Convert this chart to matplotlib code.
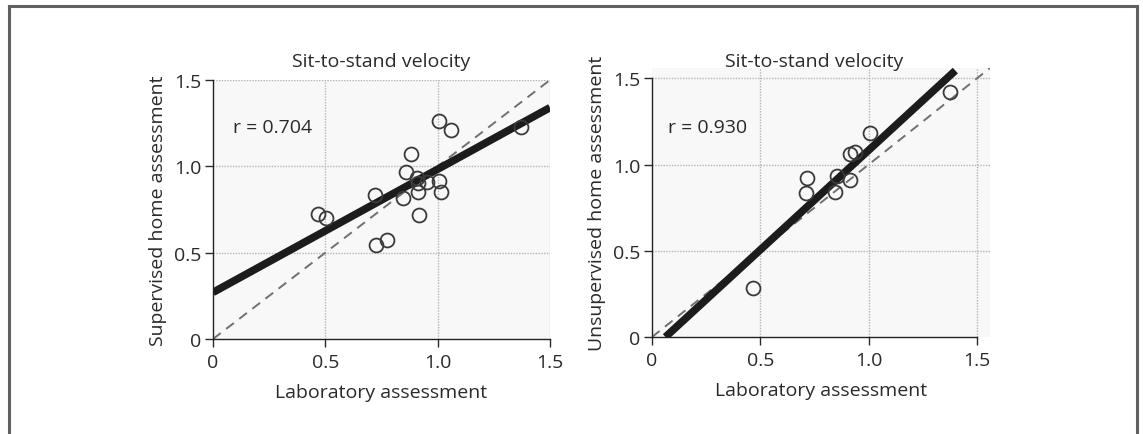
import matplotlib
matplotlib.use("Agg")
import matplotlib.pyplot as plt
import matplotlib.transforms as mtransforms
from matplotlib.lines import Line2D

plt.rcParams['font.family'] = ['Open Sans', 'DejaVu Sans']

# Left panel data (laboratory vs supervised home)
lab_sup = [0.468, 0.505, 0.72, 0.725, 0.773, 0.847, 0.857, 0.881, 0.906, 0.914,
           0.911, 0.918, 0.951, 1.007, 1.015, 1.007, 1.059, 1.371]
home_sup = [0.723, 0.698, 0.833, 0.546, 0.573, 0.814, 0.968, 1.074, 0.935, 0.902,
            0.852, 0.717, 0.91, 0.916, 0.852, 1.263, 1.211, 1.23]
fit_sup_x = [0.0, 1.5]
fit_sup_y = [0.27, 1.34]
r_sup = "r = 0.704"

# Right panel data (laboratory vs unsupervised home)
lab_uns = [0.466, 0.715, 0.711, 0.843, 0.854, 0.912, 0.912, 0.938, 1.005, 1.374]
home_uns = [0.284, 0.921, 0.834, 0.840, 0.936, 0.913, 1.062, 1.075, 1.181, 1.423]
fit_uns_x = [0.062, 1.40]
fit_uns_y = [0.0, 1.545]
r_uns = "r = 0.930"

title = "Sit-to-stand velocity"
xlabel = "Laboratory assessment"
ylabels = ["Supervised home assessment", "Unsupervised home assessment"]
ticks = [0, 0.5, 1.0, 1.5]
ticklabels = ["0", "0.5", "1.0", "1.5"]

FS = 14
TXT = '#2a2a2a'

fig = plt.figure(figsize=(11.43, 4.35), dpi=100)

ax1 = fig.add_axes([213/1143, (435-340)/435, 337/1143, 259/435])
ax2 = fig.add_axes([652/1143, (435-338)/435, 338/1143, 269/435])

panels = [
    (ax1, lab_sup, home_sup, fit_sup_x, fit_sup_y, r_sup, ylabels[0], 1.5, 1.5, (0.089, 1.23)),
    (ax2, lab_uns, home_uns, fit_uns_x, fit_uns_y, r_uns, ylabels[1], 1.56, 1.56, (0.074, 1.22)),
]

for ax, xs, ys, fx, fy, rtxt, ylab, xmax, ymax, rpos in panels:
    ax.set_facecolor('#f8f8f8')
    ax.set_xlim(0, xmax)
    ax.set_ylim(0, ymax)
    for v in [0.5, 1.0, 1.5]:
        ax.axvline(v, color='#b5b5b5', lw=1.0, ls=(0, (1, 1)), zorder=1)
        ax.axhline(v, color='#b5b5b5', lw=1.0, ls=(0, (1, 1)), zorder=1)
    m = max(xmax, ymax)
    ax.plot([0, m], [0, m], color='#707070', lw=1.4, ls=(0, (5, 3.5)), zorder=2)
    ax.plot(fx, fy, color='#1c1c1c', lw=5.5, solid_capstyle='butt', zorder=3)
    ax.plot(xs, ys, ls='none', marker='o', ms=10, mfc='none', mec='#3a3a3a',
            mew=1.3, zorder=4)
    ax.text(rpos[0], rpos[1], rtxt, fontsize=FS, va='center', ha='left', color=TXT)
    ax.set_xticks(ticks)
    ax.set_xticklabels(ticklabels)
    ax.set_yticks(ticks)
    ax.set_yticklabels(ticklabels)
    ax.tick_params(direction='out', length=6, width=1, labelsize=FS, colors=TXT, pad=2.5)
    ax.tick_params(axis='x', pad=4)
    for s in ['top', 'right']:
        ax.spines[s].set_visible(False)
    for s in ['left', 'bottom']:
        ax.spines[s].set_color('#222222')
        ax.spines[s].set_linewidth(1.0)
    ax.spines['bottom'].set_bounds(0, 1.5)
    ax.spines['left'].set_bounds(0, 1.5)
    ax.set_xlabel(xlabel, fontsize=FS, color=TXT, labelpad=9)
    ax.set_ylabel(ylab, fontsize=FS, color=TXT, labelpad=5)

ax1.set_title(title, fontsize=FS, color=TXT, pad=10)
t2 = ax2.text(0.75, 1.5, title, fontsize=FS, color=TXT, ha='center', va='baseline',
              transform=ax2.transData + mtransforms.ScaledTranslation(0, 9/72, fig.dpi_scale_trans))

# outer frame
fc = '#606060'
top = (435-7)/435
fig.add_artist(Line2D([9/1143, 9/1143], [0, top], color=fc, lw=2.2, transform=fig.transFigure))
fig.add_artist(Line2D([1137/1143, 1137/1143], [0, top], color=fc, lw=2.2, transform=fig.transFigure))
fig.add_artist(Line2D([9/1143, 1137/1143], [top, top], color=fc, lw=2.2, transform=fig.transFigure))

fig.savefig('out.png', dpi=100)
